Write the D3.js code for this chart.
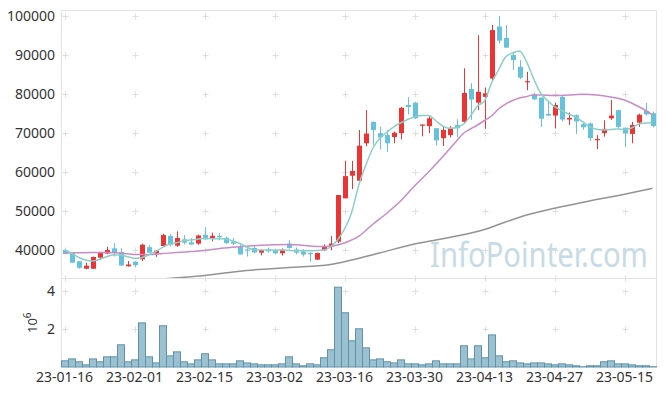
<!DOCTYPE html>
<html><head><meta charset="utf-8">
<script src="https://cdn.jsdelivr.net/npm/d3@7"></script>
<style>
body{margin:0;background:#fff}
svg{display:block}
text{font-family:"Noto Sans",sans-serif}
</style>
</head><body>
<svg id="c" width="665" height="396"></svg>
<script>
const dates = ["23-01-16","23-01-17","23-01-18","23-01-19","23-01-20","23-01-25","23-01-26","23-01-27","23-01-30","23-01-31",
"23-02-01","23-02-02","23-02-03","23-02-06","23-02-07","23-02-08","23-02-09","23-02-10","23-02-13","23-02-14",
"23-02-15","23-02-16","23-02-17","23-02-20","23-02-21","23-02-22","23-02-23","23-02-24","23-02-27","23-02-28",
"23-03-02","23-03-03","23-03-06","23-03-07","23-03-08","23-03-09","23-03-10","23-03-13","23-03-14","23-03-15",
"23-03-16","23-03-17","23-03-20","23-03-21","23-03-22","23-03-23","23-03-24","23-03-27","23-03-28","23-03-29",
"23-03-30","23-03-31","23-04-03","23-04-04","23-04-05","23-04-06","23-04-07","23-04-10","23-04-11","23-04-12",
"23-04-13","23-04-14","23-04-17","23-04-18","23-04-19","23-04-20","23-04-21","23-04-24","23-04-25","23-04-26",
"23-04-27","23-04-28","23-05-02","23-05-03","23-05-04","23-05-08","23-05-09","23-05-10","23-05-11","23-05-12",
"23-05-15","23-05-16","23-05-17","23-05-18","23-05-19"];

const open = [40070,39300,37200,35280,35280,38100,39150,40500,39550,35900,
37080,37700,40800,39200,41100,43650,41180,42800,42050,41700,
43900,43150,43700,43200,42200,40800,40200,40600,39400,40200,
39950,39250,41700,40200,39700,39300,37600,40000,41000,42200,
53300,59100,57800,67400,72900,70000,69500,69000,70000,77200,
77800,71900,71800,71250,68700,69500,72100,72900,81300,77800,
79300,84000,97300,94400,90000,87000,83000,80000,79100,74900,
74500,79300,73500,74600,72300,72500,68200,70000,73800,75900,
71400,69800,72700,75700,75100];
const high = [40400,39400,37300,36820,38400,39500,40900,41800,40500,37250,
37200,41700,41300,40100,44250,44200,44850,43900,43100,44000,
45900,44500,44450,43500,43100,41500,40800,41200,40200,40700,
40100,40500,42600,40700,40300,39500,39400,41500,43700,54150,
62950,62900,70800,75900,73000,71700,70800,70400,76700,79200,
78000,72300,74650,71300,71800,71800,73550,86600,82800,95100,
81700,97700,100000,97700,90850,88700,85700,80300,79200,78000,
77800,79800,75300,74800,72700,72700,69500,73300,78500,76000,
71400,72900,75000,77700,75500];
const low = [39000,36800,35300,35200,35200,37500,39000,38400,36000,35800,
35640,37250,39300,38300,40900,41000,40900,41500,41400,41400,
42700,42300,42550,41600,41300,38900,38400,39300,38700,39400,
38900,38650,40400,38950,38400,37100,37500,39800,40000,41800,
53300,55700,57800,66600,67000,65800,65200,67400,68400,74800,
73600,69200,70000,66800,66700,68900,68900,72500,73400,75900,
71100,83400,93000,91800,86200,83800,81000,78500,71600,74400,
71200,73000,72100,69800,70900,68000,65900,69100,73400,71200,
66400,67400,71600,74500,71500];
const close = [39050,36820,35500,36050,38280,39380,40070,39300,36100,36350,
36200,41420,39400,39900,43900,41400,43150,41950,41450,43800,
42800,43700,43350,41850,41700,38950,39900,39450,40100,39750,
39250,40100,40600,39400,38900,39000,39300,41000,41700,54150,
59000,60300,66800,69900,70800,68900,67400,70100,76500,76700,
73800,72200,73800,68150,70800,71300,71250,80300,78600,80600,
80200,96400,93700,91900,88700,84200,83300,78650,73700,74500,
77200,73500,73900,73000,71500,68700,68500,71100,74500,71600,
70000,72100,74700,74800,71800];

// volume, in units of 10^6
const volume = [0.35,0.45,0.30,0.14,0.45,0.30,0.56,0.56,1.19,0.30,
0.40,2.34,0.56,0.24,2.19,0.61,0.82,0.30,0.19,0.40,
0.72,0.40,0.19,0.19,0.19,0.35,0.24,0.19,0.14,0.14,
0.14,0.19,0.56,0.19,0.09,0.19,0.14,0.51,0.93,4.21,
2.87,1.40,2.03,1.03,0.40,0.45,0.30,0.24,0.40,0.19,
0.19,0.14,0.19,0.35,0.19,0.19,0.19,1.14,0.45,1.14,
0.51,1.71,0.61,0.30,0.35,0.24,0.19,0.24,0.24,0.19,
0.14,0.19,0.14,0.09,0.04,0.09,0.09,0.30,0.35,0.19,
0.19,0.14,0.09,0.09,0.04];

// moving averages
const ma5 = [40070,39230,38200,37510,37260,37690,38360,38790,38790,38360,
37950,38100,38790,39640,40760,41530,41940,42450,42630,42810,
43070,42970,42940,42890,42380,41790,40840,40150,40070,40070,
40070,40070,39990,39890,39890,39890,39940,40070,40840,42630,
45450,49550,56460,61590,65940,68630,70160,71570,72600,73490,
74130,74520,74520,73240,71830,71240,71450,72340,74390,76950,
78230,82840,86170,89500,90520,91040,88300,84040,80280,78360,
76770,75800,74900,74130,72930,71650,70980,70800,70930,71060,
70930,71310,72310,72600,72670];
const ma20Idx = [0,2,4,6,8,10,12,14,16,18,20,22,24,26,28,30,32,34,36,38,39,40,42,44,46,48,50,52,54,56,57,58,59,60,61,62,63,64,65,66,67,68,70,72,74,76,78,80,81,82,83,84];
const ma20Val = [39300,39380,39430,39430,39300,38920,38920,39170,39430,39690,39940,40410,40760,41050,41280,41430,41480,41280,40970,41020,41350,41870,43530,46600,49420,52620,56460,60050,63890,67990,69960,71060,72090,73240,74390,76180,77460,78360,79000,79380,79770,79770,79640,79770,79950,79770,79260,78490,77720,76820,75800,74650];
const ma120Idx = [14,20,26,32,38,41,45,50,55,60,63,66,70,75,80,84];
const ma120Val = [32650,33540,34820,35590,36360,37520,39310,41610,43270,45320,47240,49040,50750,52620,54340,55870];

const priceTicks = [40000,50000,60000,70000,80000,90000,100000];
const volTicks = [2,4];
const dateTicks = ["23-01-16","23-02-01","23-02-15","23-03-02","23-03-16","23-03-30","23-04-13","23-04-27","23-05-15"];

const L = 61, R = 656, T = 10, M = 278, B = 367;
const svg = d3.select("#c");

const x = d3.scaleBand().domain(dates).range([L, R]).padding(0);
const bw = x.bandwidth();
const cx = i => x(dates[i]) + bw / 2;
const y = d3.scaleLinear().domain([32900, 101540]).range([M, T]);
const yv = d3.scaleLinear().domain([0, 4.667]).range([B, M]);

const defs = svg.append("defs");
defs.append("clipPath").attr("id", "clipMain").append("rect")
  .attr("x", L).attr("y", T).attr("width", R - L).attr("height", M - T);

// grid crosses
const gridG = svg.append("g").attr("stroke", "#dedede").attr("fill", "none");
function cross(px, py) {
  gridG.append("path").attr("d", `M${px - 3},${py}H${px + 3}M${px},${py - 3}V${py + 3}`);
}
dateTicks.forEach(d => {
  const px = Math.round(x(d) + bw / 2) + 0.5;
  priceTicks.forEach(v => cross(px, Math.round(y(v)) + 0.5));
  volTicks.forEach(v => cross(px, Math.round(yv(v)) + 0.5));
  cross(px, M + 0.5);
});

// frame
const frame = svg.append("g").attr("stroke", "#e2e2e2").attr("fill", "none");
frame.append("path").attr("d", `M${L + 0.5},${T}V${B}`);
frame.append("path").attr("d", `M${L},${T + 0.5}H${R + 1}`);
frame.append("path").attr("d", `M${R + 0.5},${T}V${B}`);
frame.append("path").attr("d", `M${L},${M + 0.5}H${R + 1}`);

// watermark
svg.append("text").attr("transform", "translate(430,267) scale(0.86,1)")
  .attr("font-family", '"Liberation Sans",sans-serif')
  .attr("font-size", 34).attr("fill", "#c6dbe5")
  .text("InfoPointer.com");

// candles
const up = "#ec3434", down = "#65c1dc";
const cg = svg.append("g").attr("clip-path", "url(#clipMain)");
const idx = d3.range(dates.length);
cg.selectAll("line.wick").data(idx).join("line")
  .attr("x1", i => Math.round(cx(i)) + 0.5).attr("x2", i => Math.round(cx(i)) + 0.5)
  .attr("y1", i => y(high[i])).attr("y2", i => y(low[i]))
  .attr("stroke", i => close[i] >= open[i] ? up : down).attr("stroke-width", 1);
const bodyW = 5;
cg.selectAll("rect.body").data(idx).join("rect")
  .attr("x", i => Math.round(cx(i)) + 0.5 - bodyW / 2)
  .attr("width", bodyW)
  .attr("y", i => y(Math.max(open[i], close[i])))
  .attr("height", i => Math.max(1, Math.abs(y(open[i]) - y(close[i]))))
  .attr("fill", i => close[i] >= open[i] ? up : down);

// moving averages
const lineGen = d3.line().x(d => cx(d[0])).y(d => y(d[1])).curve(d3.curveMonotoneX);
const ma5Pts = ma5.map((v, i) => [i, v]);
const ma20Pts = ma20Idx.map((k, j) => [k, ma20Val[j]]);
const ma120Pts = ma120Idx.map((k, j) => [k, ma120Val[j]]);
cg.append("path").attr("d", lineGen(ma120Pts)).attr("fill", "none").attr("stroke", "#939393").attr("stroke-width", 1.5);
cg.append("path").attr("d", lineGen(ma20Pts)).attr("fill", "none").attr("stroke", "#c98bc6").attr("stroke-width", 1.5);
cg.append("path").attr("d", lineGen(ma5Pts)).attr("fill", "none").attr("stroke", "#8ccfc8").attr("stroke-width", 1.5);

// volume bars
svg.append("g").selectAll("rect").data(idx).join("rect")
  .attr("x", i => x(dates[i]) + 0.5)
  .attr("width", bw)
  .attr("y", i => yv(volume[i]) + 0.5)
  .attr("height", i => Math.max(0, B - yv(volume[i]) - 0.5))
  .attr("fill", "#9bc1d1").attr("stroke", "#5f93aa").attr("stroke-width", 1);

// axes
const tickColor = "#333";
const ay = svg.append("g").attr("transform", `translate(${L},0)`)
  .call(d3.axisLeft(y).tickValues(priceTicks).tickSize(0).tickPadding(6).tickFormat(d3.format("d")));
const av = svg.append("g").attr("transform", `translate(${L},0)`)
  .call(d3.axisLeft(yv).tickValues(volTicks).tickSize(0).tickPadding(6).tickFormat(d3.format("d")));
const ax = svg.append("g").attr("transform", `translate(0,${B})`)
  .call(d3.axisBottom(x).tickValues(dateTicks).tickSize(0).tickPadding(5));
[ay, av, ax].forEach(a => {
  a.select(".domain").remove();
  a.selectAll("text").attr("font-family", '"Noto Sans",sans-serif').attr("font-size", 14).attr("fill", tickColor);
});

// volume unit label
const vl = svg.append("text").attr("transform", "translate(37,333) rotate(-90)")
  .attr("font-size", 13).attr("fill", tickColor);
vl.append("tspan").text("10");
vl.append("tspan").attr("dy", -6).attr("font-size", 10).text("6");
</script>
</body></html>
